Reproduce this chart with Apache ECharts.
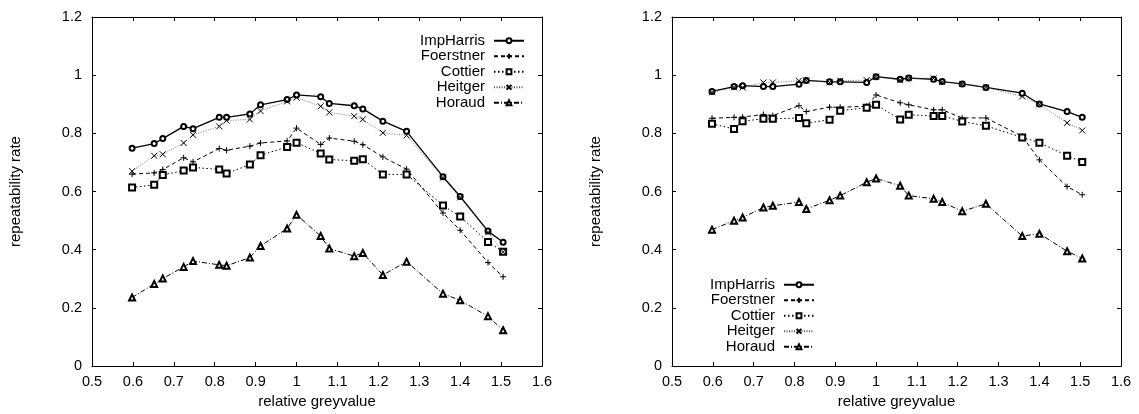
<!DOCTYPE html>
<html>
<head>
<meta charset="utf-8">
<script src="https://cdn.jsdelivr.net/npm/echarts@6/dist/echarts.min.js"></script>
<style>
html,body{margin:0;padding:0;background:#fff;}
#chart{width:1139px;height:414px;}
</style>
</head>
<body>
<div id="chart"></div>
<script>
// relative greyvalue (x positions shared by both panels)
var greyvalues = [0.598, 0.652, 0.673, 0.724, 0.747, 0.811, 0.829, 0.886, 0.912, 0.977, 1.0, 1.059, 1.080, 1.141, 1.162, 1.211, 1.269, 1.358, 1.400, 1.468, 1.505];
var seriesNames = ['ImpHarris', 'Foerstner', 'Cottier', 'Heitger', 'Horaud'];
var xTicks = [0.5, 1.6, 0.1];
var yTicks = [0, 1.2, 0.2];

// left panel
var leftImpHarris = [0.749, 0.765, 0.782, 0.824, 0.816, 0.855, 0.855, 0.867, 0.898, 0.916, 0.932, 0.926, 0.903, 0.895, 0.884, 0.842, 0.807, 0.651, 0.583, 0.464, 0.426];
var leftFoerstner = [0.660, 0.664, 0.676, 0.716, 0.702, 0.748, 0.742, 0.756, 0.767, 0.774, 0.818, 0.762, 0.784, 0.773, 0.761, 0.719, 0.677, 0.526, 0.467, 0.356, 0.307];
var leftCottier   = [0.614, 0.623, 0.657, 0.672, 0.683, 0.676, 0.662, 0.693, 0.725, 0.753, 0.768, 0.731, 0.710, 0.706, 0.711, 0.659, 0.659, 0.552, 0.514, 0.427, 0.393];
var leftHeitger   = [0.670, 0.723, 0.728, 0.767, 0.795, 0.824, 0.844, 0.848, 0.877, 0.910, 0.923, 0.893, 0.872, 0.859, 0.848, 0.802, 0.793, 0.648, 0.580, 0.460, 0.393];
var leftHoraud    = [0.236, 0.282, 0.301, 0.341, 0.361, 0.348, 0.345, 0.373, 0.413, 0.473, 0.520, 0.447, 0.404, 0.378, 0.389, 0.313, 0.359, 0.249, 0.226, 0.171, 0.123];

// right panel
var rightImpHarris = [0.944, 0.961, 0.964, 0.961, 0.961, 0.969, 0.982, 0.977, 0.977, 0.975, 0.995, 0.986, 0.990, 0.986, 0.978, 0.970, 0.958, 0.938, 0.901, 0.875, 0.855];
var rightFoerstner = [0.852, 0.855, 0.856, 0.865, 0.861, 0.895, 0.875, 0.890, 0.890, 0.893, 0.932, 0.905, 0.898, 0.881, 0.881, 0.853, 0.853, 0.790, 0.709, 0.617, 0.589];
var rightCottier   = [0.833, 0.815, 0.842, 0.850, 0.850, 0.853, 0.835, 0.847, 0.878, 0.888, 0.898, 0.848, 0.864, 0.860, 0.860, 0.841, 0.826, 0.786, 0.768, 0.723, 0.702];
var rightHeitger   = [0.941, 0.958, 0.958, 0.975, 0.975, 0.981, 0.982, 0.975, 0.981, 0.983, 0.995, 0.983, 0.989, 0.989, 0.977, 0.970, 0.958, 0.927, 0.900, 0.836, 0.810];
var rightHoraud    = [0.469, 0.500, 0.511, 0.545, 0.551, 0.564, 0.540, 0.570, 0.586, 0.632, 0.645, 0.620, 0.586, 0.575, 0.564, 0.532, 0.558, 0.447, 0.455, 0.395, 0.370];

var FONT = '"Liberation Sans", Arial, Helvetica, sans-serif';

function pairs(ys) { return greyvalues.map(function (x, i) { return [x, ys[i]]; }); }

var styles = {
  ImpHarris: { symbol: 'emptyCircle', size: 5, line: { color: '#000', width: 1.3, type: 'solid' } },
  Foerstner: { symbol: 'path://M5,0L5,10M0,5L10,5', size: 6, line: { color: '#000', width: 1, type: [4, 3] } },
  Cottier:   { symbol: 'emptyRect', size: 6, line: { color: '#000', width: 1, type: [1.5, 2.5] } },
  Heitger:   { symbol: 'path://M0,0L10,10M10,0L0,10', size: 6, line: { color: '#555', width: 0.8, type: [1, 1.5] } },
  Horaud:    { symbol: 'emptyTriangle', size: 6, line: { color: '#000', width: 1, type: [5, 2, 1, 2] } }
};

function makeSeries(name, ys, axisIdx) {
  var s = styles[name];
  return {
    name: name,
    type: 'line',
    xAxisIndex: axisIdx,
    yAxisIndex: axisIdx,
    data: pairs(ys),
    symbol: s.symbol,
    symbolSize: s.size,
    showSymbol: true,
    animation: false,
    lineStyle: s.line,
    itemStyle: { color: '#000', borderColor: '#000', borderWidth: 1 },
    emphasis: { disabled: true }
  };
}

var leftData = [leftImpHarris, leftFoerstner, leftCottier, leftHeitger, leftHoraud];
var rightData = [rightImpHarris, rightFoerstner, rightCottier, rightHeitger, rightHoraud];

var series = [];
seriesNames.forEach(function (n, i) { series.push(makeSeries(n, leftData[i], 0)); });
seriesNames.forEach(function (n, i) { series.push(makeSeries(n, rightData[i], 2)); });

function fmt(v) { return String(Math.round(v * 10) / 10); }

function xAx(grid, top) {
  return {
    type: 'value', gridIndex: grid, position: top ? 'top' : 'bottom',
    min: xTicks[0], max: xTicks[1], interval: xTicks[2],
    name: top ? '' : 'relative greyvalue', nameLocation: 'middle', nameGap: 24,
    nameTextStyle: { fontFamily: FONT, fontSize: 15, color: '#000' },
    axisLine: { show: true, onZero: false, lineStyle: { color: '#000', width: 1 } },
    axisTick: { show: true, inside: true, length: 4, lineStyle: { color: '#000' } },
    axisLabel: { show: !top, margin: 8, fontFamily: FONT, fontSize: 14.5, color: '#000', formatter: fmt },
    splitLine: { show: false }
  };
}
function yAx(grid, right) {
  return {
    type: 'value', gridIndex: grid, position: right ? 'right' : 'left',
    min: yTicks[0], max: yTicks[1], interval: yTicks[2],
    name: right ? '' : 'repeatability rate', nameLocation: 'middle', nameGap: 69, nameRotate: 90,
    nameTextStyle: { fontFamily: FONT, fontSize: 15, color: '#000' },
    axisLine: { show: true, onZero: false, lineStyle: { color: '#000', width: 1 } },
    axisTick: { show: true, inside: true, length: 4, lineStyle: { color: '#000' } },
    axisLabel: { show: !right, margin: 10, fontFamily: FONT, fontSize: 14.5, color: '#000', formatter: fmt },
    splitLine: { show: false }
  };
}

var legendText = { fontFamily: FONT, fontSize: 15, color: '#000', lineHeight: 15.5, padding: [0, 4, 0, 0] };

var option = {
  backgroundColor: '#fff',
  animation: false,
  grid: [
    { left: 92, top: 17, width: 450, height: 354, containLabel: false },
    { left: 672, top: 17, width: 449, height: 354, containLabel: false }
  ],
  xAxis: [xAx(0, false), xAx(0, true), xAx(1, false), xAx(1, true)],
  yAxis: [yAx(0, false), yAx(0, true), yAx(1, false), yAx(1, true)],
  legend: [
    {
      data: seriesNames.slice(),
      orient: 'vertical', align: 'right', right: 609, top: 28,
      itemWidth: 30, itemHeight: 6, itemGap: 0,
      textStyle: legendText, selectedMode: false
    },
    {
      data: seriesNames.slice(),
      orient: 'vertical', align: 'right', right: 319, top: 272,
      itemWidth: 30, itemHeight: 6, itemGap: 0,
      textStyle: legendText, selectedMode: false
    }
  ],
  series: series
};

var chart = echarts.init(document.getElementById('chart'), null, { renderer: 'canvas' });
chart.setOption(option);
</script>
</body>
</html>
